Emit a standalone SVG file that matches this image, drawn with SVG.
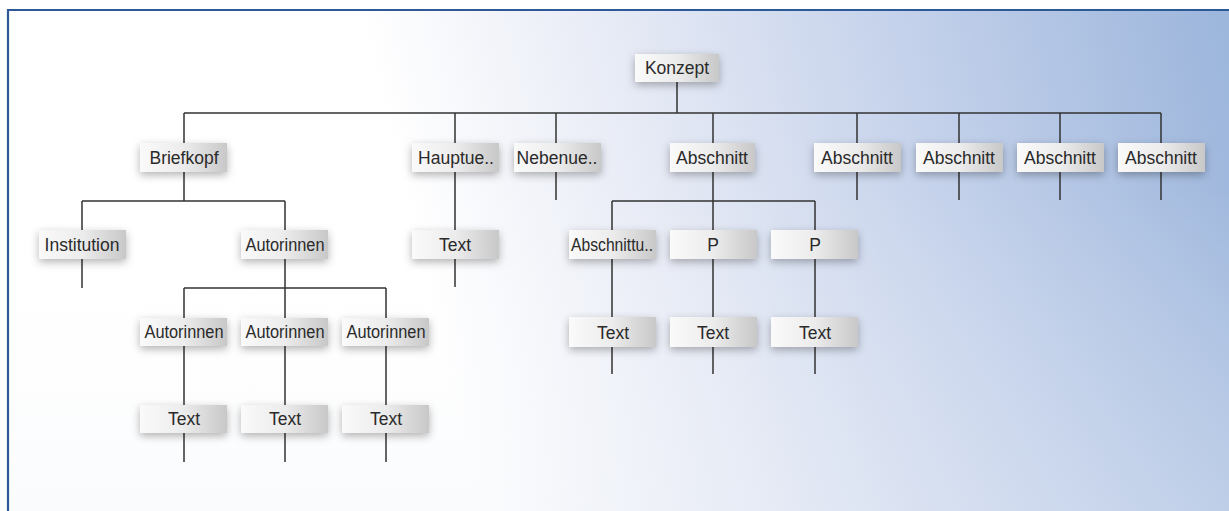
<svg xmlns="http://www.w3.org/2000/svg" width="1229" height="511" viewBox="0 0 1229 511">
<defs>
<linearGradient id="bg" gradientUnits="userSpaceOnUse" x1="420" y1="260" x2="1229" y2="60">
<stop offset="0" stop-color="#ffffff"/>
<stop offset="0.3" stop-color="#e6eaf5"/>
<stop offset="0.65" stop-color="#c2d0ea"/>
<stop offset="1" stop-color="#9db6dc"/>
</linearGradient>
<linearGradient id="bgv" x1="0" y1="0" x2="0" y2="1">
<stop offset="0.35" stop-color="#ffffff" stop-opacity="0"/>
<stop offset="1" stop-color="#eef2f8" stop-opacity="0.3"/>
</linearGradient>
<linearGradient id="box" x1="0" y1="0" x2="1" y2="0">
<stop offset="0" stop-color="#fafafa"/>
<stop offset="0.5" stop-color="#ececec"/>
<stop offset="1" stop-color="#c8c8c8"/>
</linearGradient>
<filter id="sh" x="-30%" y="-50%" width="160%" height="220%">
<feDropShadow dx="0" dy="3" stdDeviation="4" flood-color="#000" flood-opacity="0.3"/>
</filter>
</defs>
<style>
.n rect{fill:url(#box);filter:url(#sh);}
.n text{font-family:"Liberation Sans",Arial,sans-serif;font-size:17.5px;fill:#2a2a2a;text-anchor:middle;}
#connectors path{fill:none;stroke:#333;stroke-width:1.5;}
</style>
<rect x="0" y="0" width="1229" height="511" fill="#ffffff"/>
<rect x="8" y="10" width="1230" height="510" fill="url(#bg)"/>
<rect x="8" y="10" width="1230" height="510" fill="url(#bgv)"/>
<path d="M8 520 V10 H1229" fill="none" stroke="#2d5a96" stroke-width="2.2"/>

<g id="connectors">
<path d="M677 82 V113 M184 113 H1161"/>
<path d="M184 113 V143 M455 113 V143 M556 113 V143 M713 113 V143 M857 113 V143 M959 113 V143 M1060 113 V143 M1161 113 V143"/>
<path d="M184 172 V201 M82 201 H285 M82 201 V230 M285 201 V230"/>
<path d="M455 172 V230 M455 259 V287"/>
<path d="M556 172 V200 M857 172 V200 M959 172 V200 M1060 172 V200 M1161 172 V200"/>
<path d="M713 172 V201 M612 201 H815 M612 201 V230 M713 201 V230 M815 201 V230"/>
<path d="M612 259 V317 M713 259 V317 M815 259 V317 M612 347 V374 M713 347 V374 M815 347 V374"/>
<path d="M82 259 V288"/>
<path d="M285 259 V288 M184 288 H386 M184 288 V318 M285 288 V318 M386 288 V318"/>
<path d="M184 346 V405 M285 346 V405 M386 346 V405 M184 433 V462 M285 433 V462 M386 433 V462"/>
</g>

<g id="konzept" class="n"><rect x="635" y="54" width="84" height="28"/><text x="677" y="74">Konzept</text></g>

<g id="briefkopf" class="n"><rect x="140" y="143" width="87" height="29"/><text x="184" y="164">Briefkopf</text></g>
<g id="hauptue" class="n"><rect x="412" y="143" width="87" height="29"/><text x="456" y="164">Hauptue..</text></g>
<g id="nebenue" class="n"><rect x="514" y="143" width="87" height="29"/><text x="557" y="164">Nebenue..</text></g>
<g id="abschnitt1" class="n"><rect x="670" y="143" width="85" height="29"/><text x="712" y="164">Abschnitt</text></g>
<g id="abschnitt2" class="n"><rect x="814" y="143" width="87" height="29"/><text x="857" y="164">Abschnitt</text></g>
<g id="abschnitt3" class="n"><rect x="916" y="143" width="87" height="29"/><text x="959" y="164">Abschnitt</text></g>
<g id="abschnitt4" class="n"><rect x="1017" y="143" width="87" height="29"/><text x="1060" y="164">Abschnitt</text></g>
<g id="abschnitt5" class="n"><rect x="1118" y="143" width="87" height="29"/><text x="1161" y="164">Abschnitt</text></g>

<g id="institution" class="n"><rect x="39" y="230" width="87" height="29"/><text x="82" y="251">Institution</text></g>
<g id="autorinnen" class="n"><rect x="241" y="230" width="87" height="29"/><text x="285" y="251" textLength="79" lengthAdjust="spacingAndGlyphs">Autorinnen</text></g>
<g id="hauptue-text" class="n"><rect x="412" y="230" width="87" height="29"/><text x="455" y="251">Text</text></g>
<g id="abschnittu" class="n"><rect x="569" y="230" width="87" height="29"/><text x="612" y="251" textLength="82" lengthAdjust="spacingAndGlyphs">Abschnittu..</text></g>
<g id="p1" class="n"><rect x="670" y="230" width="87" height="29"/><text x="713" y="251">P</text></g>
<g id="p2" class="n"><rect x="771" y="230" width="87" height="29"/><text x="815" y="251">P</text></g>

<g id="autorinnen1" class="n"><rect x="140" y="318" width="87" height="28"/><text x="184" y="338" textLength="79" lengthAdjust="spacingAndGlyphs">Autorinnen</text></g>
<g id="autorinnen2" class="n"><rect x="241" y="318" width="87" height="28"/><text x="285" y="338" textLength="79" lengthAdjust="spacingAndGlyphs">Autorinnen</text></g>
<g id="autorinnen3" class="n"><rect x="342" y="318" width="87" height="28"/><text x="386" y="338" textLength="79" lengthAdjust="spacingAndGlyphs">Autorinnen</text></g>
<g id="abschnittu-text" class="n"><rect x="569" y="317" width="87" height="30"/><text x="613" y="339">Text</text></g>
<g id="p1-text" class="n"><rect x="670" y="317" width="87" height="30"/><text x="713" y="339">Text</text></g>
<g id="p2-text" class="n"><rect x="771" y="317" width="87" height="30"/><text x="815" y="339">Text</text></g>

<g id="text1" class="n"><rect x="140" y="405" width="87" height="28"/><text x="184" y="425">Text</text></g>
<g id="text2" class="n"><rect x="241" y="405" width="87" height="28"/><text x="285" y="425">Text</text></g>
<g id="text3" class="n"><rect x="342" y="405" width="87" height="28"/><text x="386" y="425">Text</text></g>
</svg>
